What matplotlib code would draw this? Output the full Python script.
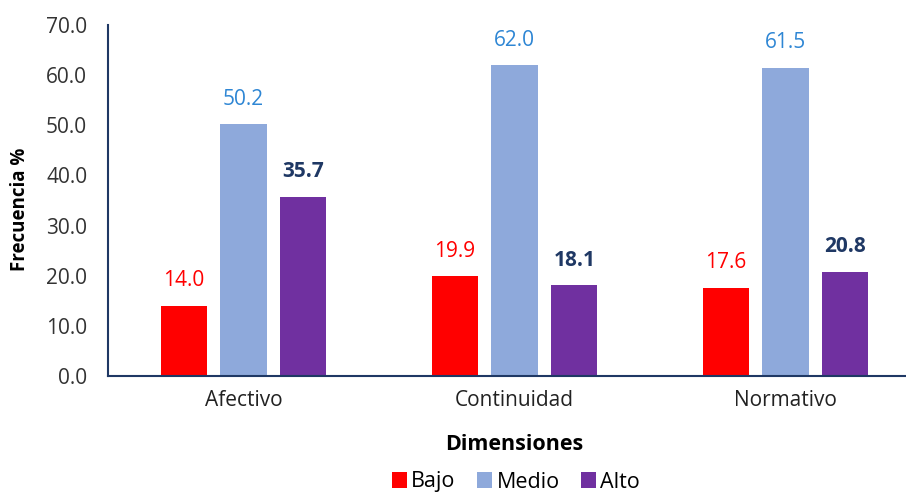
import matplotlib.pyplot as plt
import numpy as np

# data
categories = ['Afectivo', 'Continuidad', 'Normativo']
bajo = [14.0, 19.9, 17.6]
medio = [50.2, 62.0, 61.5]
alto = [35.7, 18.1, 20.8]
series_names = ['Bajo', 'Medio', 'Alto']
yticks = [0, 10, 20, 30, 40, 50, 60, 70]

plt.rcParams['font.family'] = ['Open Sans', 'DejaVu Sans']

fig = plt.figure(figsize=(9.06, 4.93), dpi=100)
ax = fig.add_axes([108 / 906, 1 - 376 / 493, (921 - 108) / 906, (376 - 25) / 493])

x = np.arange(len(categories))
w = 0.17
step = 0.221
bar_colors = ['#FF0000', '#8EA9DB', '#7030A0']
label_colors = ['#FF0000', '#2E86D4', '#1F3864']
label_weights = ['normal', 'normal', 'bold']

for i, vals in enumerate([bajo, medio, alto]):
    pos = x + (i - 1) * step
    bars = ax.bar(pos, vals, width=w, color=bar_colors[i], label=series_names[i])
    for b, v in zip(bars, vals):
        ax.text(b.get_x() + b.get_width() / 2, v + 5.0, f'{v:.1f}',
                ha='center', va='center', fontsize=15,
                color=label_colors[i], fontweight=label_weights[i])

ax.set_xlim(-0.5, 2.5)
ax.set_ylim(0, 70)
ax.set_yticks(yticks)
ax.set_yticklabels([f'{t:.1f}' for t in yticks], fontsize=15, color='#333333')
ax.set_xticks(x)
ax.set_xticklabels(categories, fontsize=15, color='#222222')
ax.tick_params(length=0, pad=10)
ax.tick_params(axis='y', pad=15)

for s in ['top', 'right']:
    ax.spines[s].set_visible(False)
for s in ['left', 'bottom']:
    ax.spines[s].set_color('#1F3864')
    ax.spines[s].set_linewidth(1.5)

# axis titles
fig.text(20 / 906, 1 - 209 / 493, 'Frecuencia %', rotation=90, ha='center', va='center',
         fontsize=13.5, fontweight='bold')
fig.text(514 / 906, 1 - 445 / 493, 'Dimensiones', ha='center', va='center',
         fontsize=15.5, fontweight='bold')

fig.legend(loc='center', bbox_to_anchor=(516 / 906, 1 - 482 / 493), ncol=3,
           frameon=False, fontsize=15.5, handlelength=0.7, handleheight=0.7,
           handletextpad=0.2, columnspacing=1.0)

fig.savefig('out.png', dpi=100)
